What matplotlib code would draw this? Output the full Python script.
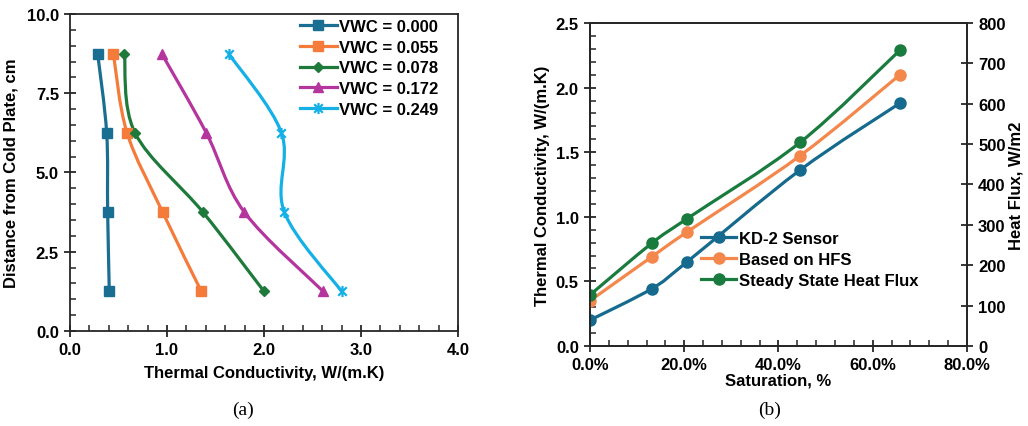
import matplotlib
matplotlib.use("Agg")
import matplotlib.pyplot as plt
from matplotlib.path import Path
from matplotlib.patches import PathPatch
from matplotlib.lines import Line2D
from matplotlib.ticker import MultipleLocator, PercentFormatter

plt.rcParams['font.family'] = ['Liberation Sans', 'DejaVu Sans']
plt.rcParams['font.weight'] = 'bold'
plt.rcParams['font.size'] = 12

# (a) conductivity profiles along the sample
depth = [8.75, 6.25, 3.75, 1.25]
vwc_labels = ["VWC = 0.000", "VWC = 0.055", "VWC = 0.078", "VWC = 0.172", "VWC = 0.249"]
k_vwc_000 = [0.285, 0.378, 0.388, 0.405]
k_vwc_055 = [0.447, 0.588, 0.955, 1.354]
k_vwc_078 = [0.560, 0.670, 1.370, 2.000]
k_vwc_172 = [0.945, 1.405, 1.797, 2.610]
k_vwc_249 = [1.636, 2.180, 2.210, 2.800]

# (b) conductivity against saturation
saturation = [0.0, 0.131, 0.205, 0.446, 0.658]
k_kd2 = [0.20, 0.443, 0.648, 1.362, 1.880]
k_hfs = [0.35, 0.690, 0.880, 1.473, 2.100]
k_steady = [0.395, 0.795, 0.983, 1.576, 2.290]
method_labels = ["KD-2 Sensor", "Based on HFS", "Steady State Heat Flux"]

# star marker: an x with a vertical bar
star = Path([(-1, -1), (1, 1), (-1, 1), (1, -1), (0, -1.3), (0, 1.3)],
            [Path.MOVETO, Path.LINETO, Path.MOVETO, Path.LINETO, Path.MOVETO, Path.LINETO])


def smooth_line(ax, x, y, color, lw=2.3):
    # excel style smoothed line: bezier segments with catmull-rom control points
    pts = list(zip(x, y))
    n = len(pts)
    verts = [pts[0]]
    codes = [Path.MOVETO]
    for i in range(n - 1):
        p0 = pts[i - 1] if i > 0 else pts[i]
        p1 = pts[i]
        p2 = pts[i + 1]
        p3 = pts[i + 2] if i + 2 < n else pts[i + 1]
        c1 = (p1[0] + (p2[0] - p0[0]) / 6, p1[1] + (p2[1] - p0[1]) / 6)
        c2 = (p2[0] - (p3[0] - p1[0]) / 6, p2[1] - (p3[1] - p1[1]) / 6)
        verts += [c1, c2, p2]
        codes += [Path.CURVE4] * 3
    ax.add_patch(PathPatch(Path(verts, codes), facecolor='none', edgecolor=color,
                           lw=lw, capstyle='round', joinstyle='round', zorder=2))


def style_axis(ax):
    for s in ax.spines.values():
        s.set_color('#262626')
        s.set_linewidth(1.3)
    ax.tick_params(which='major', direction='inout', length=8, width=1.3, color='#262626',
                   labelsize=12, pad=4)
    ax.tick_params(which='minor', direction='in', length=4, width=1.1, color='#262626')


fig = plt.figure(figsize=(10.28, 4.27), dpi=100)

# ---- panel (a)
ax1 = fig.add_axes([0.0681, 0.2225, 0.3774, 0.7424])
series_a = [k_vwc_000, k_vwc_055, k_vwc_078, k_vwc_172, k_vwc_249]
colors_a = ["#1A6E91", "#F47B3A", "#1E7A3B", "#B5359E", "#14B0E6"]
markers_a = ['s', 's', 'D', '^', star]
sizes_a = [7.5, 7.5, 5, 7.5, 8]
handles_a = []
for k, c, m, ms, lab in zip(series_a, colors_a, markers_a, sizes_a, vwc_labels):
    smooth_line(ax1, k, depth, c)
    mew = 1.6 if m is star else 1
    ax1.plot(k, depth, ls='none', marker=m, ms=ms, color=c, mew=mew, zorder=3)
    handles_a.append(Line2D([], [], color=c, lw=2.3, marker=m, ms=ms, mew=mew, label=lab))

ax1.set_xlim(0, 4)
ax1.set_ylim(0, 10)
ax1.xaxis.set_major_locator(MultipleLocator(1))
ax1.xaxis.set_minor_locator(MultipleLocator(0.2))
ax1.yaxis.set_major_locator(MultipleLocator(2.5))
ax1.yaxis.set_minor_locator(MultipleLocator(0.5))
ax1.xaxis.set_major_formatter('{x:.1f}')
ax1.yaxis.set_major_formatter('{x:.1f}')
style_axis(ax1)
ax1.set_xlabel("Thermal Conductivity, W/(m.K)", fontsize=12, fontweight='bold', labelpad=6)
ax1.set_ylabel("Distance from Cold Plate, cm", fontsize=12, fontweight='bold', labelpad=6)
ax1.legend(handles=handles_a, loc='upper right', bbox_to_anchor=(0.95, 0.985), frameon=False,
           borderpad=0, borderaxespad=0, handlelength=2.2, handletextpad=0.15,
           labelspacing=0.35, prop={'size': 12, 'weight': 'bold'})

# ---- panel (b)
ax2 = fig.add_axes([0.5739, 0.1874, 0.3667, 0.7564])
series_b = [k_kd2, k_hfs, k_steady]
colors_b = ["#156A8D", "#F4874B", "#1A7B3E"]
handles_b = []
for k, c, lab in zip(series_b, colors_b, method_labels):
    smooth_line(ax2, saturation, k, c)
    ax2.plot(saturation, k, ls='none', marker='o', ms=8, color=c, zorder=3)
    handles_b.append(Line2D([], [], color=c, lw=2.3, marker='o', ms=8, label=lab))

ax2.set_xlim(0, 0.8)
ax2.set_ylim(0, 2.5)
ax2.xaxis.set_major_locator(MultipleLocator(0.2))
ax2.xaxis.set_minor_locator(MultipleLocator(0.04))
ax2.xaxis.set_major_formatter(PercentFormatter(xmax=1, decimals=1))
ax2.yaxis.set_major_locator(MultipleLocator(0.5))
ax2.yaxis.set_minor_locator(MultipleLocator(0.1))
ax2.yaxis.set_major_formatter('{x:.1f}')
style_axis(ax2)
ax2.set_xlabel("Saturation, %", fontsize=12, fontweight='bold', labelpad=0)
ax2.set_ylabel("Thermal Conductivity, W/(m.K)", fontsize=12, fontweight='bold', labelpad=4)
ax2.legend(handles=handles_b, loc='upper left', bbox_to_anchor=(0.295, 0.355), frameon=False,
           borderpad=0, borderaxespad=0, handlelength=2.1, handletextpad=0.15,
           labelspacing=0.35, prop={'size': 12, 'weight': 'bold'})

ax3 = ax2.twinx()
ax3.set_ylim(0, 800)
ax3.yaxis.set_major_locator(MultipleLocator(100))
for s in ax3.spines.values():
    s.set_color('#262626')
    s.set_linewidth(1.3)
ax3.tick_params(which='major', direction='inout', length=8, width=1.3, color='#262626',
                labelsize=12, pad=4)
ax3.set_ylabel("Heat Flux, W/m2", fontsize=12, fontweight='bold')
ax3.yaxis.set_label_coords(1.11, 0.5)

fig.text(0.236, 0.04, "(a)", family='Liberation Serif', fontsize=14, fontweight='normal',
         ha='center', va='center')
fig.text(0.749, 0.04, "(b)", family='Liberation Serif', fontsize=14, fontweight='normal',
         ha='center', va='center')

fig.savefig("out.png", dpi=100)
